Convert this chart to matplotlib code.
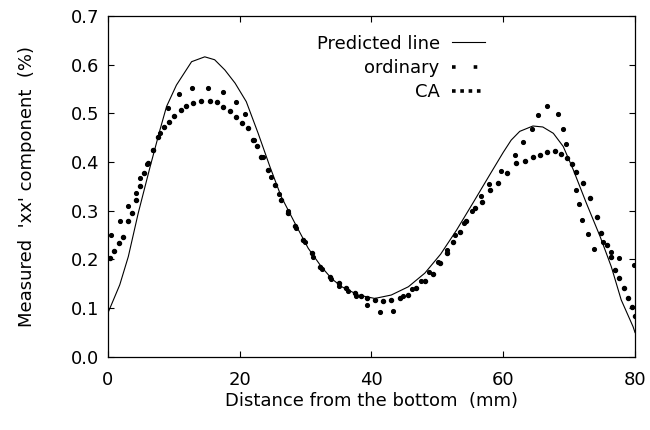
import numpy as np
from matplotlib import pyplot as plt
from matplotlib.lines import Line2D

plt.rcParams['font.family'] = ['DejaVu Sans']

# predicted line (mm, %)
pred_x = [0, 1.8, 3.1, 4.6, 6.4, 7.9, 8.9, 10.4, 12.7, 14.7, 16.2, 17.75, 19.3, 21, 22.8,
          24.6, 26.3, 28.4, 30.4, 32.4, 34, 35.5, 38, 40.5, 43, 45.6, 48.1, 50.5, 52.9,
          55.4, 58, 60, 61.2, 62.5, 64.5, 66, 67.6, 69.1, 70.6, 72.6, 74.7, 76.4, 77.9, 79.7, 80]
pred_y = [0.09, 0.148, 0.206, 0.295, 0.39, 0.466, 0.514, 0.558, 0.606, 0.616, 0.61, 0.589,
          0.562, 0.524, 0.459, 0.39, 0.329, 0.274, 0.223, 0.185, 0.16, 0.144, 0.127, 0.12,
          0.127, 0.144, 0.172, 0.211, 0.26, 0.316, 0.375, 0.42, 0.445, 0.463, 0.474, 0.472,
          0.459, 0.432, 0.385, 0.316, 0.247, 0.185, 0.117, 0.062, 0.05]

# ordinary measurement
ord_x = [0.4, 1.8, 3.0, 4.2, 4.9, 5.9, 6.9, 7.9, 9.1, 10.8, 12.8, 15.2, 17.5, 19.5, 20.8,
         22.2, 23.5, 24.8, 26.0, 27.3, 28.6, 29.9, 31.2, 32.5, 33.8, 35.1, 36.4, 37.7, 39.3,
         41.3, 43.3, 44.8, 46.2, 47.5, 48.8, 50.1, 51.4, 52.7, 54.0, 55.3, 56.6, 57.9, 59.7,
         61.8, 63.0, 64.3, 65.3, 66.6, 68.3, 69.0, 69.5, 71.0, 71.5, 72.0, 72.8, 73.7, 75.2,
         76.4, 77.6, 79.9]
ord_y = [0.25, 0.279, 0.309, 0.337, 0.367, 0.396, 0.425, 0.459, 0.51, 0.539, 0.553, 0.553,
         0.543, 0.524, 0.499, 0.445, 0.41, 0.37, 0.335, 0.30, 0.265, 0.235, 0.205, 0.18, 0.16,
         0.145, 0.135, 0.125, 0.107, 0.093, 0.095, 0.125, 0.14, 0.155, 0.175, 0.195, 0.22,
         0.25, 0.275, 0.30, 0.33, 0.355, 0.381, 0.415, 0.442, 0.467, 0.497, 0.516, 0.499,
         0.467, 0.437, 0.343, 0.313, 0.281, 0.253, 0.221, 0.235, 0.215, 0.204, 0.189]

# CA measurement
ca_x = [0.3, 1, 1.7, 2.3, 3, 3.6, 4.2, 4.9, 5.5, 6.1, 6.9, 7.6, 8.5, 9.25, 10.1, 11.1, 11.9,
        12.9, 14.2, 15.5, 16.6, 17.5, 18.5, 19.5, 20.3, 21.2, 22, 22.6, 23.3, 24.3, 25.3,
        26.3, 27.4, 28.4, 29.6, 30.9, 32.2, 33.7, 35, 36.2, 37.5, 38.4, 39.3, 40.5, 41.8, 43,
        44.3, 45.6, 46.8, 48.1, 49.4, 50.4, 51.4, 52.4, 53.4, 54.4, 55.7, 56.7, 58, 59.2,
        60.5, 62, 63.3, 64.5, 65.6, 66.7, 67.8, 68.8, 69.6, 70.4, 71.1, 72.1, 73.1, 74.2,
        74.9, 75.7, 76.4, 77, 77.5, 78.3, 79, 79.5, 80]
ca_y = [0.203, 0.218, 0.233, 0.247, 0.278, 0.295, 0.322, 0.35, 0.377, 0.398, 0.425, 0.452,
        0.472, 0.483, 0.495, 0.506, 0.516, 0.522, 0.526, 0.526, 0.523, 0.514, 0.504, 0.492,
        0.48, 0.469, 0.446, 0.432, 0.411, 0.384, 0.353, 0.322, 0.295, 0.268, 0.24, 0.213,
        0.185, 0.165, 0.152, 0.142, 0.131, 0.125, 0.12, 0.116, 0.114, 0.117, 0.12, 0.127,
        0.141, 0.155, 0.17, 0.193, 0.213, 0.235, 0.257, 0.278, 0.305, 0.319, 0.342, 0.356,
        0.377, 0.398, 0.403, 0.41, 0.415, 0.42, 0.422, 0.417, 0.408, 0.396, 0.38, 0.356,
        0.326, 0.288, 0.254, 0.23, 0.206, 0.179, 0.161, 0.141, 0.12, 0.103, 0.083]

fig = plt.figure(figsize=(6.5, 4.3), dpi=100)
ax = fig.add_axes([0.166, 0.170, 0.811, 0.793])

ax.plot(pred_x, pred_y, color='k', linewidth=0.8)
ax.plot(ord_x, ord_y, linestyle='none', marker='o', markersize=2.7, color='k')
ax.plot(ca_x, ca_y, linestyle='none', marker='o', markersize=2.9, color='k')

ax.set_xlim(0, 80)
ax.set_ylim(0, 0.7)
ax.set_xticks([0, 20, 40, 60, 80])
ax.set_yticks(np.arange(0, 0.71, 0.1))
ax.set_yticklabels(['0.0', '0.1', '0.2', '0.3', '0.4', '0.5', '0.6', '0.7'])
ax.tick_params(direction='in', top=True, right=True, length=4, width=0.8, labelsize=13)
ax.tick_params(axis='x', pad=10)
ax.tick_params(axis='y', pad=6)
for s in ax.spines.values():
    s.set_linewidth(0.9)

ax.set_xlabel("Distance from the bottom  (mm)", fontsize=13, labelpad=2)
ax.set_ylabel("Measured  'xx' component  (%)", fontsize=13, labelpad=25)

handles = [Line2D([], [], color='k', linewidth=0.8),
           Line2D([], [], color='k', linewidth=2.6, linestyle=(0, (1, 5))),
           Line2D([], [], color='k', linewidth=2.6, linestyle=(0, (1, 1.3)))]
ax.legend(handles, ['Predicted line', 'ordinary', 'CA'], loc='upper right',
          bbox_to_anchor=(0.715, 0.945), borderpad=0, borderaxespad=0,
          frameon=False, markerfirst=False, fontsize=13, handlelength=1.8,
          handletextpad=0.7, labelspacing=0.35)

fig.savefig('out.png', dpi=100)
